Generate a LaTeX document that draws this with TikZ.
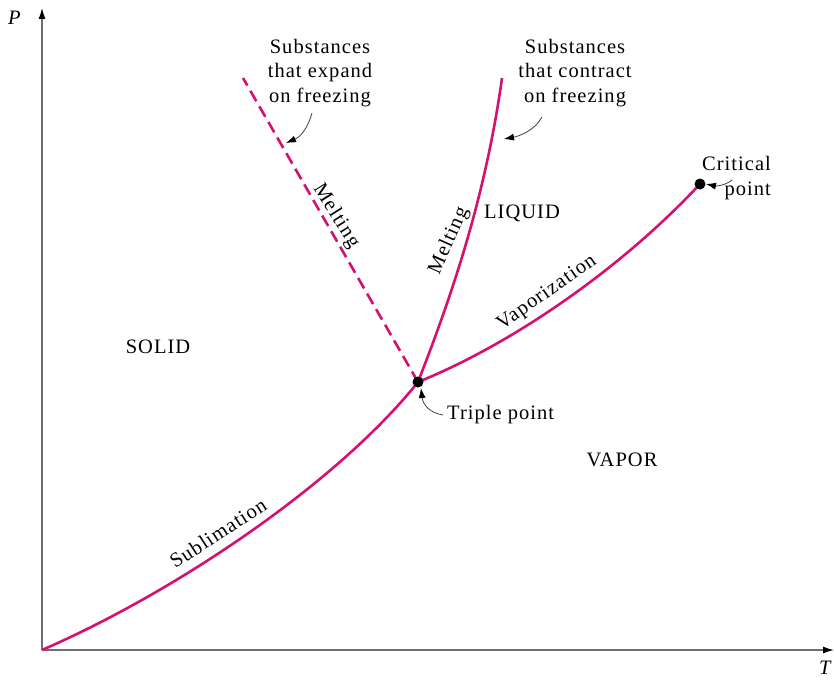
\documentclass[tikz,border=0pt]{standalone}
\usepackage{fontspec}
\setmainfont{Liberation Serif}[LetterSpace=5]
\usetikzlibrary{arrows.meta}
\definecolor{curvec}{RGB}{214,16,110}
\definecolor{axisc}{RGB}{110,110,110}
\tikzset{
  phase/.style={draw=curvec,line width=2.6pt},
  axisline/.style={draw=axisc,line width=1.3pt,-{Latex[length=11pt,width=7pt,black]}},
  txt/.style={font=\fontsize{20.5}{24.5}\selectfont,inner sep=0pt},
  pt/.style={circle,fill=black,minimum size=11pt,inner sep=0pt},
  callout/.style={draw=black!75,line width=0.8pt,-{Latex[length=10pt,width=7pt,black]}}
}
\begin{document}
\begin{tikzpicture}[x=1pt,y=-1pt]
\useasboundingbox (0,0) rectangle (834,679);
% axes
\coordinate (O) at (42,650);
\coordinate (Ptop) at (42,8);
\coordinate (Tend) at (834,650);
\draw[axisline] (O) -- (Ptop);
\draw[axisline] (O) -- (Tend);
\node[txt] (Plab) at (15,18) {\textit{P}};
\node[txt] (Tlab) at (826,668) {\textit{T}};
% key points
\coordinate (tp) at (418,382);
\coordinate (cp) at (700,184);
\coordinate (mtop) at (502,78);
\coordinate (dtop) at (243,78);
% curves
\draw[phase] (O) .. controls (180,590) and (340,480) .. (tp);
\draw[phase] (tp) .. controls (510,345) and (620,270) .. (cp);
\draw[phase] (tp) .. controls (450,300) and (485,200) .. (mtop);
\draw[phase,dash pattern=on 12pt off 6pt] (tp) -- (dtop);
\node[pt] (tpdot) at (tp) {};
\node[pt] (cpdot) at (cp) {};
% region labels
\node[txt] (solid) at (158,347) {SOLID};
\node[txt] (liquid) at (522,213) {LIQUID};
\node[txt] (vapor) at (622,460) {VAPOR};
% curve labels
\node[txt,rotate=33] (subl) at (218,533) {Sublimation};
\node[txt,rotate=35] (vap) at (547,293) {Vaporization};
\node[txt,rotate=-58] (melt1) at (336,216) {Melting};
\node[txt,rotate=66] (melt2) at (449,241) {Melting};
% annotations
\node[txt,align=center] (expand) at (320,73) {Substances\\that expand\\on freezing};
\node[txt,align=center] (contract) at (575,73) {Substances\\that contract\\on freezing};
\node[txt,align=right,anchor=east] (crit) at (771,178) {Critical\\point};
\node[txt,anchor=west] (triple) at (447,415) {Triple point};
% callout arrows
\coordinate (e1) at (312,113);
\coordinate (e2) at (286,143);
\draw[callout] (e1) .. controls (307,130) and (300,137) .. (e2);
\coordinate (c1) at (542,117);
\coordinate (c2) at (504,139);
\draw[callout] (c1) .. controls (535,130) and (520,136) .. (c2);
\coordinate (k1) at (732,180);
\coordinate (k2) at (706,184);
\draw[callout] (k1) .. controls (725,186) and (715,186) .. (k2);
\coordinate (t1) at (443,415);
\coordinate (t2) at (421,388);
\draw[callout] (t1) .. controls (430,413) and (423,405) .. (t2);
\end{tikzpicture}
\end{document}
